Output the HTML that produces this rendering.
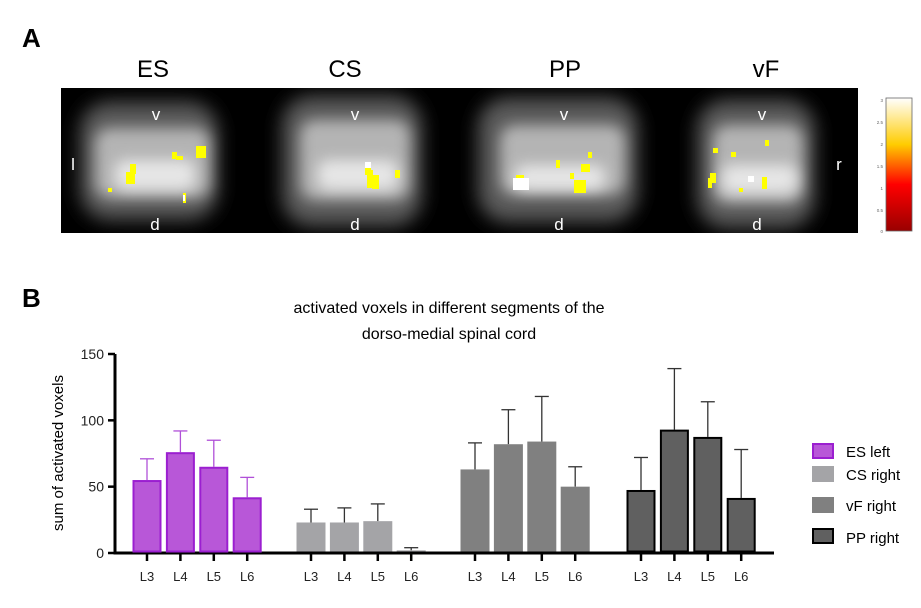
<!DOCTYPE html>
<html><head><meta charset="utf-8"><style>
body{margin:0;background:#fff;width:921px;height:603px;overflow:hidden;font-family:"Liberation Sans",sans-serif}
</style></head><body>
<svg width="921" height="603" xmlns="http://www.w3.org/2000/svg">
<defs>
<filter id="bl" x="-50%" y="-50%" width="200%" height="200%"><feGaussianBlur stdDeviation="9"/></filter>
<filter id="bl2" x="-50%" y="-50%" width="200%" height="200%"><feGaussianBlur stdDeviation="7"/></filter>
<clipPath id="panelclip"><rect x="61" y="88" width="797" height="145"/></clipPath>
<linearGradient id="cbar" x1="0" y1="1" x2="0" y2="0"><stop offset="0" stop-color="#900"/><stop offset="0.35" stop-color="#f00"/><stop offset="0.65" stop-color="#fc0"/><stop offset="1" stop-color="#fff"/></linearGradient>
</defs>
<text x="22" y="47" font-size="26" font-weight="bold">A</text>
<text x="22" y="307" font-size="26" font-weight="bold">B</text>
<g font-size="24" text-anchor="middle">
<text x="153" y="77">ES</text>
<text x="345" y="77">CS</text>
<text x="565" y="77">PP</text>
<text x="766" y="77">vF</text>
</g>
<rect x="61" y="88" width="797" height="145" fill="#000"/>
<g clip-path="url(#panelclip)">
<g filter="url(#bl)" fill="#5a5a5a">
<rect x="80" y="102" width="138" height="118" rx="30"/>
<rect x="282" y="96" width="140" height="130" rx="30"/>
<rect x="478" y="98" width="160" height="124" rx="30"/>
<rect x="697" y="100" width="118" height="128" rx="30"/>
</g>
<g filter="url(#bl2)" fill="#b4b4b4">
<rect x="95" y="128" width="115" height="70" rx="15"/>
<rect x="300" y="120" width="110" height="80" rx="15"/>
<rect x="500" y="125" width="125" height="70" rx="15"/>
<rect x="713" y="125" width="90" height="78" rx="15"/>
</g>
<g filter="url(#bl2)" fill="#e6e6e6">
<rect x="115" y="160" width="80" height="30" rx="10"/>
<rect x="318" y="160" width="80" height="30" rx="10"/>
<rect x="515" y="165" width="90" height="25" rx="10"/>
<rect x="722" y="165" width="75" height="28" rx="10"/>
</g>
</g>
<g fill="#ff0">
<rect x="196" y="146" width="10" height="12"/><rect x="172" y="152" width="5" height="7"/><rect x="176" y="156" width="7" height="4"/>
<rect x="130" y="164" width="6" height="10"/><rect x="126" y="172" width="9" height="12"/><rect x="108" y="188" width="4" height="4"/><rect x="183" y="193" width="3" height="10"/>
<rect x="365" y="165" width="6" height="10"/><rect x="367" y="170" width="6" height="18"/><rect x="372" y="175" width="7" height="14"/><rect x="395" y="170" width="5" height="8"/>
<rect x="556" y="160" width="4" height="8"/><rect x="588" y="152" width="4" height="6"/><rect x="581" y="164" width="9" height="8"/><rect x="574" y="180" width="12" height="13"/><rect x="516" y="175" width="8" height="6"/><rect x="570" y="173" width="4" height="6"/>
<rect x="713" y="148" width="5" height="5"/><rect x="731" y="152" width="5" height="5"/><rect x="765" y="140" width="4" height="6"/><rect x="710" y="173" width="6" height="10"/><rect x="708" y="178" width="4" height="10"/><rect x="762" y="177" width="5" height="12"/><rect x="739" y="188" width="4" height="4"/>
</g>
<g fill="#fff">
<rect x="513" y="178" width="16" height="12"/><rect x="365" y="162" width="6" height="6"/><rect x="748" y="176" width="6" height="6"/><rect x="183" y="195" width="2" height="6"/>
</g>
<g fill="#fff" font-size="17" text-anchor="middle">
<text x="156" y="120">v</text><text x="355" y="120">v</text><text x="564" y="120">v</text><text x="762" y="120">v</text>
<text x="155" y="230">d</text><text x="355" y="230">d</text><text x="559" y="230">d</text><text x="757" y="230">d</text>
<text x="73" y="170">l</text><text x="839" y="170">r</text>
</g>
<rect x="886" y="98" width="26" height="133" fill="url(#cbar)" stroke="#666" stroke-width="0.8"/>
<g font-size="4.5" fill="#666" text-anchor="end">
<text x="883" y="102">3</text><text x="883" y="124">2.5</text><text x="883" y="146">2</text><text x="883" y="168">1.5</text><text x="883" y="190">1</text><text x="883" y="212">0.5</text><text x="883" y="233">0</text>
</g>
<g font-size="16" text-anchor="middle">
<text x="449" y="313">activated voxels in different segments of the</text>
<text x="449" y="339">dorso-medial spinal cord</text>
</g>
<text transform="translate(63,453) rotate(-90)" font-size="15" text-anchor="middle">sum of activated voxels</text>
<g id="chart"></g>
<g>
<rect x="813" y="444" width="20" height="14" fill="#b857d8" stroke="#9b1fd0" stroke-width="2"/>
<text x="846" y="457" font-size="15">ES left</text>
<rect x="812" y="466" width="22" height="16" fill="#a4a4a7"/>
<text x="846" y="480" font-size="15">CS right</text>
<rect x="812" y="497" width="22" height="16" fill="#808080"/>
<text x="846" y="511" font-size="15">vF right</text>
<rect x="813" y="529" width="20" height="14" fill="#606060" stroke="#000" stroke-width="2"/>
<text x="846" y="543" font-size="15">PP right</text>
</g>
</svg>
<script>
const categories = ["L3","L4","L5","L6"];
const groups = ["ES left","CS right","vF right","PP right"];
const esValues = [55,76,65,42];
const esErrors = [16,16,20,15];
const csValues = [23,23,24,2];
const csErrors = [10,11,13,2];
const vfValues = [63,82,84,50];
const vfErrors = [20,26,34,15];
const ppValues = [47.5,93,87.5,41.5];
const ppErrors = [24.5,46,26.5,36.5];
const yTicks = [0,50,100,150];

const NS="http://www.w3.org/2000/svg";
const g=document.getElementById('chart');
const y0=553, yPer=(553-354)/150;
const yScale=v=>y0-v*yPer;
const groupStart=[147,311,475,641], step=33.4, bw=29;
const xScale=(gi,ci)=>groupStart[gi]+ci*step;
const styles=[
 {fill:"#b857d8",stroke:"#9b1fd0",sw:2,err:"#b050d8"},
 {fill:"#a4a4a7",stroke:"none",sw:0,err:"#333"},
 {fill:"#808080",stroke:"none",sw:0,err:"#333"},
 {fill:"#606060",stroke:"#000",sw:2,err:"#333"}];
const allVals=[esValues,csValues,vfValues,ppValues];
const allErr=[esErrors,csErrors,vfErrors,ppErrors];
function mk(tag,attrs){const e=document.createElementNS(NS,tag);for(const k in attrs)e.setAttribute(k,attrs[k]);g.appendChild(e);return e;}
let ax=mk('line',{x1:115,y1:yScale(0),x2:774,y2:yScale(0),stroke:"#000","stroke-width":3});


let ay=mk('line',{x1:115,y1:yScale(0)+1.5,x2:115,y2:yScale(150),stroke:"#000","stroke-width":3});


yTicks.forEach(t=>{
 let l=mk('line',{x1:108,y1:yScale(t),x2:115,y2:yScale(t),stroke:"#000","stroke-width":2.5});
 
 
 let tx=mk('text',{x:104,y:yScale(t)+5,"font-size":14,"text-anchor":"end",fill:"#222"});
 tx.textContent=t;
 
 
});
allVals.forEach((vals,gi)=>{
 const s=styles[gi];
 vals.forEach((v,ci)=>{
  const cx=xScale(gi,ci), top=yScale(v), et=yScale(v+allErr[gi][ci]);
  let el=mk('line',{x1:cx,y1:top,x2:cx,y2:et,stroke:s.err,"stroke-width":1.3});
  
  
  let ec=mk('line',{x1:cx-7,y1:et,x2:cx+7,y2:et,stroke:s.err,"stroke-width":1.3});
  
  
  const inset=s.sw/2;
  let r=mk('rect',{x:cx-bw/2+inset,y:top+inset,width:bw-2*inset,height:Math.max(0,yScale(0)-top-inset-1.5),fill:s.fill,stroke:s.stroke,"stroke-width":s.sw});
  
  
  let tk=mk('line',{x1:cx,y1:yScale(0),x2:cx,y2:yScale(0)+8,stroke:"#000","stroke-width":2.5});
  
  
  let lb=mk('text',{x:cx,y:581,"font-size":13,"text-anchor":"middle",fill:"#222"});
  lb.textContent=categories[ci];
  
  
 });
});
</script>
</body></html>
